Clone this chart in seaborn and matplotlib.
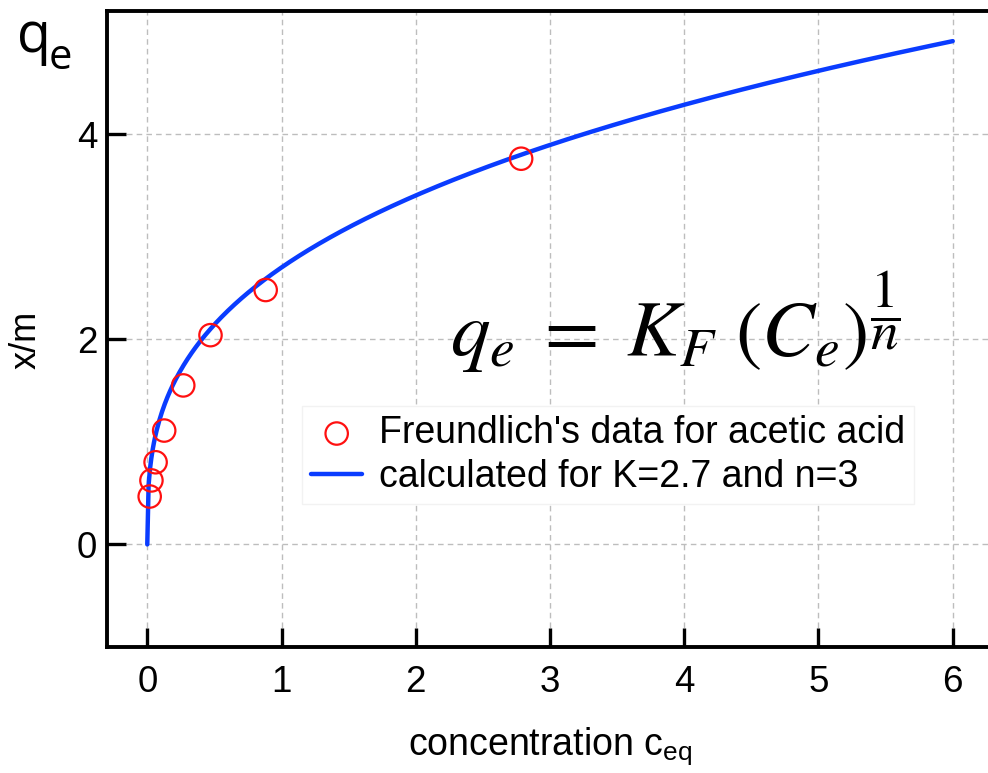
import numpy as np
import pandas as pd
import matplotlib
matplotlib.use('Agg')
import matplotlib.pyplot as plt
import seaborn as sns

# Freundlich's data for acetic acid
conc = [0.018, 0.031, 0.062, 0.126, 0.268, 0.471, 0.882, 2.785]
x_per_m = [0.467, 0.624, 0.801, 1.11, 1.55, 2.04, 2.48, 3.76]

# isotherm parameters from the legend
K_F = 2.7
n_exp = 3
c_curve = np.linspace(0, 6, 600)
q_curve = K_F * c_curve ** (1 / n_exp)

x_ticks = [0, 1, 2, 3, 4, 5, 6]
y_ticks = [0, 2, 4]

sns.set_theme(style='white')
plt.rcParams['font.family'] = ['Liberation Sans', 'DejaVu Sans']
plt.rcParams['mathtext.fontset'] = 'stix'
plt.rcParams['text.color'] = 'black'
plt.rcParams['axes.labelcolor'] = 'black'

df_pts = pd.DataFrame({'c': conc, 'q': x_per_m})
df_fit = pd.DataFrame({'c': c_curve, 'q': q_curve})

fig = plt.figure(figsize=(9.88, 7.73), dpi=100)
ax = fig.add_axes([107 / 988, 1 - 647 / 773, (993 - 107) / 988, (647 - 11) / 773])

ax.grid(True, color='#bdbdbd', linestyle=(0, (4, 3)), linewidth=1.0)
ax.set_axisbelow(True)

sns.lineplot(data=df_fit, x='c', y='q', ax=ax, color='#0a3cff', linewidth=3.2,
             label='calculated for K=2.7 and n=3', zorder=3)
sns.scatterplot(data=df_pts, x='c', y='q', ax=ax, marker='o', s=260,
                facecolor='none', edgecolor='#ff1010', linewidth=1.6,
                label="Freundlich's data for acetic acid", zorder=4)

ax.set_xlim(-0.3, 6.3)
ax.set_ylim(-1, 5.2)
ax.set_xticks(x_ticks)
ax.set_yticks(y_ticks)
ax.tick_params(direction='in', length=14, width=2.4, labelsize=26.5, colors='black',
               top=False, right=False)
ax.tick_params(axis='x', bottom=True, pad=13)
ax.tick_params(axis='y', left=True, pad=7)
for side in ['left', 'bottom', 'top', 'right']:
    ax.spines[side].set_color('black')
    ax.spines[side].set_linewidth(2.8)

ax.set_xlabel(r'concentration c$_{\mathregular{eq}}$', fontsize=27, labelpad=18, color='black')
ax.set_ylabel('x/m', fontsize=26, color='black')
ax.yaxis.set_label_coords(-0.072, 0.483)

handles, labels = ax.get_legend_handles_labels()
leg = ax.legend(handles[::-1], labels[::-1], loc='upper left',
                bbox_to_anchor=(302 / 988, 1 - 406 / 773), bbox_transform=fig.transFigure,
                fontsize=27, frameon=True, framealpha=1, edgecolor='#f2f2f2',
                fancybox=False, handlelength=1.35, handletextpad=0.45,
                labelspacing=0.2, borderpad=0.25, borderaxespad=0, labelcolor='black')

ax.text(675 / 988, 1 - 322 / 773, r'$q_e\;=\;K_F\ (C_e)^{\dfrac{1}{n}}$',
        transform=fig.transFigure, fontsize=57, ha='center', va='center', color='black')

fig.text(17 / 988, 1 - 52 / 773, 'q', fontsize=40, color='black',
         family=['Open Sans', 'DejaVu Sans'], va='baseline', ha='left')
fig.text(49 / 988, 1 - 69 / 773, 'e', fontsize=30, color='black',
         family=['Open Sans', 'DejaVu Sans'], va='baseline', ha='left')

fig.savefig('out.png', dpi=100)
